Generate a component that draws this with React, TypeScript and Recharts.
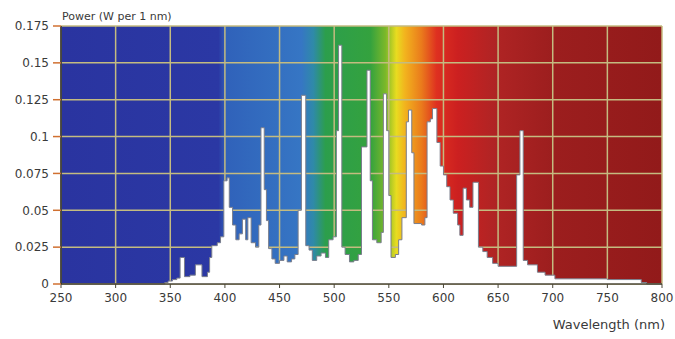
import React from 'react';
import { AreaChart, Area, XAxis, YAxis, CartesianGrid } from 'recharts';

// wavelength (nm) where each step starts, and lamp power (W per 1 nm) from there
const wavelengths = [
  250, 345, 348, 352, 356, 359, 363, 368, 373, 379, 384, 386, 388, 393, 396, 399, 402, 404, 407, 410,
  413, 416, 419, 421, 424, 428, 431, 433, 436, 438, 440, 443, 446, 450, 454, 457, 461, 464, 467, 470,
  474, 477, 480, 484, 488, 492, 495, 499, 502, 504, 507, 510, 514, 518, 522, 525, 530, 533, 535, 539,
  543, 545, 548, 550, 552, 556, 559, 562, 566, 568, 571, 573, 580, 583, 585, 588, 590, 594, 597, 600,
  603, 606, 609, 613, 615, 618, 621, 624, 627, 632, 636, 640, 645, 650, 667, 670, 673, 677, 686, 693,
  702, 750, 781, 786, 800,
];
const power = [
  0, 0.001, 0.002, 0.003, 0.004, 0.018, 0.005, 0.006, 0.013, 0.005, 0.008, 0.018, 0.026, 0.028, 0.032, 0.07, 0.072, 0.052, 0.04, 0.03,
  0.034, 0.044, 0.03, 0.045, 0.028, 0.025, 0.04, 0.106, 0.064, 0.043, 0.024, 0.017, 0.014, 0.016, 0.019, 0.015, 0.017, 0.02, 0.05, 0.128,
  0.026, 0.023, 0.016, 0.019, 0.021, 0.018, 0.03, 0.032, 0.104, 0.162, 0.025, 0.02, 0.015, 0.016, 0.02, 0.093, 0.145, 0.07, 0.03, 0.028,
  0.035, 0.129, 0.104, 0.06, 0.018, 0.02, 0.03, 0.045, 0.11, 0.118, 0.089, 0.041, 0.04, 0.045, 0.11, 0.112, 0.119, 0.096, 0.08, 0.074,
  0.066, 0.057, 0.048, 0.04, 0.033, 0.065, 0.057, 0.052, 0.069, 0.025, 0.022, 0.018, 0.014, 0.012, 0.074, 0.104, 0.016, 0.013, 0.008, 0.006,
  0.0035, 0.003, 0.001, 0, 0,
];

const xTicks = [250, 300, 350, 400, 450, 500, 550, 600, 650, 700, 750, 800];
const yTicks = [0, 0.025, 0.05, 0.075, 0.1, 0.125, 0.15, 0.175];
const minorTicks = Array.from({ length: 111 }, (_, i) => 250 + i * 5);

const data = wavelengths.map((nm, i) => ({ nm, power: power[i] }));

const labelStyle = { fontSize: 12, fill: '#3a3a3a', fontFamily: 'DejaVu Sans' };

const XTick = (props: any) => {
  const { x, y, payload } = props;
  return (
    <text x={x} y={y + 11} textAnchor="middle" fontSize={12} fill="#3a3a3a" fontFamily="DejaVu Sans">
      {payload.value}
    </text>
  );
};

const App: React.FC = () => {
  return (
    <div style={{ position: 'relative', width: 675, height: 339, fontFamily: 'DejaVu Sans', color: '#3a3a3a' }}>
      <style>{'body { margin: 0; }'}</style>
      <div style={{ position: 'absolute', left: 62, top: 10, fontSize: 11 }}>Power (W per 1 nm)</div>
      <div style={{ position: 'absolute', right: 10, top: 317, fontSize: 13, lineHeight: '15px' }}>Wavelength (nm)</div>
      <AreaChart width={675} height={339} data={data} margin={{ top: 26, right: 13, left: 16, bottom: 30 }}>
        <defs>
          <linearGradient id="spectrum" x1="0" y1="0" x2="1" y2="0">
            <stop offset="0" stopColor="#2a34a0" />
            <stop offset="0.262" stopColor="#2b38a4" />
            <stop offset="0.275" stopColor="#3062ba" />
            <stop offset="0.4" stopColor="#3676c4" />
            <stop offset="0.42" stopColor="#2f8aa8" />
            <stop offset="0.44" stopColor="#2c9e4c" />
            <stop offset="0.515" stopColor="#34a23e" />
            <stop offset="0.54" stopColor="#7cb82a" />
            <stop offset="0.558" stopColor="#e8dc20" />
            <stop offset="0.572" stopColor="#f2b41e" />
            <stop offset="0.6" stopColor="#ea7a1c" />
            <stop offset="0.625" stopColor="#de3020" />
            <stop offset="0.66" stopColor="#cc2020" />
            <stop offset="0.72" stopColor="#b02424" />
            <stop offset="0.82" stopColor="#9c1e1e" />
            <stop offset="1" stopColor="#921a1a" />
          </linearGradient>
        </defs>
        <CartesianGrid fill="url(#spectrum)" fillOpacity={1} stroke="#c4bb80" strokeWidth={1.5} />
        <XAxis
          xAxisId="minor"
          type="number"
          dataKey="nm"
          domain={[250, 800]}
          ticks={minorTicks}
          tickFormatter={() => ''}
          height={0}
          tickSize={3}
          axisLine={false}
          tickLine={{ stroke: '#5a5640' }}
        />
        <XAxis
          type="number"
          dataKey="nm"
          domain={[250, 800]}
          ticks={xTicks}
          interval={0}
          height={25}
          tickSize={4}
          tickMargin={3}
          tick={<XTick />}
          axisLine={{ stroke: '#4a4636', strokeWidth: 1.5 }}
          tickLine={{ stroke: '#4a4636' }}
        />
        <YAxis
          type="number"
          domain={[0, 0.175]}
          ticks={yTicks}
          interval={0}
          width={45}
          tickSize={8}
          tickMargin={4}
          tick={labelStyle}
          axisLine={{ stroke: '#2a2a2a', strokeWidth: 1.5 }}
          tickLine={{ stroke: '#d07030', strokeWidth: 1.5 }}
        />
        <Area
          type="stepAfter"
          dataKey="power"
          stroke="#7a7e8c"
          strokeWidth={1}
          fill="#ffffff"
          fillOpacity={1}
          isAnimationActive={false}
        />
      </AreaChart>
    </div>
  );
};

export default App;
